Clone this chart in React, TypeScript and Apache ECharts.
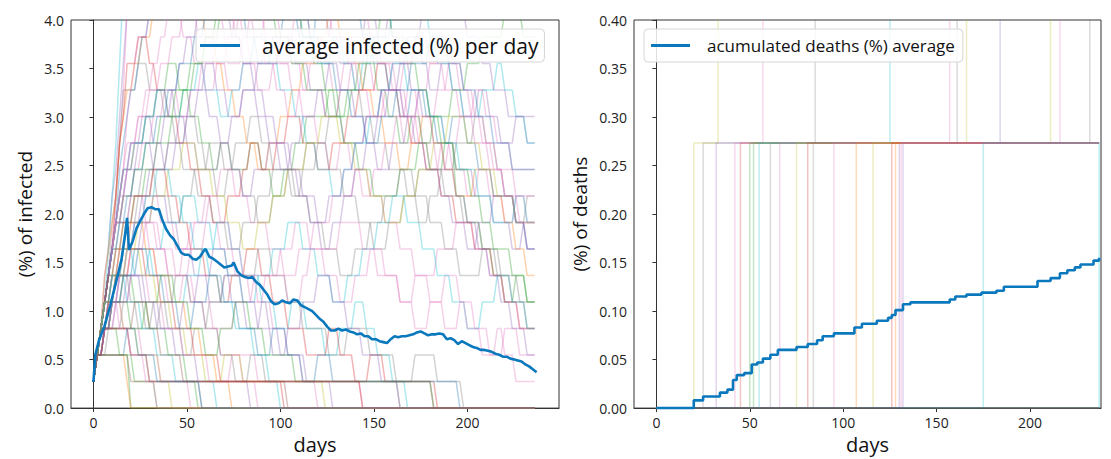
import React, { useEffect, useRef } from "react";
import * as echarts from "echarts";

// one person out of 366 in percent
const PERSON_PCT = 100 / 366;
const RUN_STEP_DAYS = 2;
const LAST_DAY = 237;

// each character = number of infected people (base 36) every 2 days, one string per simulation run
const infectedRuns: string[] = [
  "1234568acf ffhhhiiijj hhhiiggghh gggffeeeff eeddddeeed dddeeeffee eeddcccddd cccddcccbb bbbaaabbaa 999aaa9999 8889998888 777888777",
  "1235689bdf ggghhiiikk kllkkkjjjk jjiihhhggg hhhgggfffg ggghhhgggf fffeeeddde eeefffeeef eeddddeedd cccdddcccb bbbcccbbba aaabbbaaa",
  "1234567899 9aaabbbccc dddcccbbba aa99aaa999 99aaa99988 8999aaabbb bbbcccbbbc cccdddcccb bbaaabbbaa 9999aaa888 7777666555 444555444",
  "1234578acc ccdddccccb bbaaabbbaa 99988899aa aabbbaaa99 9998889999 aaabbbcccc ccbbbaaaa9 9999888777 8889999aaa aabbbaaa99 888777888",
  "123468adgj kkllmmllkk jjihhhgggf ffgggghhgg gghhhiihhh gggfffeeee ddddeeeddd ccdddeeeee fffggggfff eeddddcccb bbbbccccdd cccbbbaaa",
  "1234567888 899aaabbbc cccbbbcccd dddeeedddd eeffffeeee dddcccbbbb aaa999aaa9 99888999aa abbbcccbbb bbcccdddcc cbbbaaa999 888777666",
  "1235678abc cddeeefffg gghhhgggff eeeddcccbb baaa999aaa bbbcccdddd eeefffeeee ddcccbbbaa aa999aaabb baaa999888 8899999888 777666555",
  "1234568abd ddeeeddccc bbbaaa9998 8877778888 99aaa9999a aabbbbaaaa 9999aaaabb bcccccdddc ccbbbaaaa9 9998888777 7766666555 444433333",
  "1234567789 99aaaa9999 aaabbbcccc dddcccbbbb ccccbbbaaa 999aaabbbb cccdddcccc bbbaaa9999 aaaabbbccc bbbbaaa999 9988888777 776667777",
  "12345679ab ccdeeffggg hhhggggfff ggghhggggf feeeddddee effffeeeee gghhhggggf ffeeeddddc ccbbbccccb bbaaaabbbb aaa9999888 888777666",
  "123456789a aabbbcccdd deeeffffee eeddddcccc dddeeeffff eeedddcccc ccbbbbcccd dddeeedddd cccbbbbaaa aa999aaabb bbcccbbbaa aa9999999",
  "1234567789 9aaabbbccc ccbbbaaa99 9999aaabbb ccccdddddd eeeeddddcc ccbbbbbaaa aaabbbbccc ddddeeeeff fffgggffff eeeedddccc cbbbbbbbb",
  "1234567899 aaaabbbccc bbbbccccdd ccccbbbccc dddeeeeddd ccccbbbaaa 9999888999 aaaabbbccc ddddcccccc bbbbaaaa99 9998888777 777888777",
  "1234567788 8999aaaabb bbccccdddd eeeffffggh hhggggfffe eeeddddccc cccbbbbaaa a999988888 8899999aaa abbbbbcccc ddddeeeeee fffffeeee",
  "1234566777 8889999888 8777888999 9aaaa99999 8888777788 8899999aaa aaa9999888 8777766667 7778888999 9999888887 7777666665 555544444",
  "1234455666 7777888877 7766667777 8888999988 8877777666 6555566667 7777888888 9999888877 7766665555 5566666777 7766665555 444433333",
  "1233445566 6677778888 9999aaaa99 9988887777 6666777788 8899999aaa abbbbbaaaa 9999888877 7778888999 9aaaabbbbb aaaa999988 888777777",
  "1234567777 8888777766 6655556666 7777666655 5544445555 6666777766 6655554444 5555666655 5544443333 4444555544 4433332222 333322222",
  "1234567899 aaabbbaaa9 99aaabbbcc cbbbaaa999 8889999aaa aaa9998888 7778888999 aaabbbbccc cccbbbaaa9 9998887777 6667777888 888777666",
  "123456789b cdeeefffgg gfffeeeddd cccdddeeef fffeeedddc ccbbbcccdd deeefffggg ffffeeeddd dcccbbbccc dddeeedddc ccbbbaaa99 999888888",
  "1234556677 7888999aaa abbbcccddd eeeeffffgg ghhhiiihhh gggfffeeed ddcccbbbcc cdddeeefff eeeedddccc bbbaaaa999 9888777666 665555444",
  "1233445566 6555566667 7777888877 7766665555 4444555566 6677776666 5555444455 5566667777 8888777766 6655554444 3333444455 554444333",
  "1234455667 7788889999 aaaa999988 8877776666 7777888899 9999888877 7766665555 6666777788 8899998888 7777666655 5555666655 554444333",
  "1234567789 aabbccddee ffgghhhiii hhhggfffee ddddccccdd eeeeffffgg gfffeeeedd dcccbbbbcc cccdddeeee ddddccccbb bbaaaa9999 888877777",
  "1223344556 6778899aab bccddeeeff fgggfffeee dddcccbbba aa99988877 7666777888 999aaabbbc ccdddcccbb baaa999888 7776665554 443333222",
  "1234566778 8999aaabbb cccddddeee ffffggghhh iiijjjiiih hhgggfffee eddddccccb bbbaaaabbb bccccddddd eeeeeddddc cccbbbbaaa aa9999999",
  "1223344455 5566666555 4444555444 3333222222 1111000000 0000000000 0000000000 0000000000 0000000000 0000000000 0000000000 000000000",
  "1233444455 5444433333 2222211100 0000000000 0000000000 0000000000 0000000000 0000000000 0000000000 0000000000 0000000000 000000000",
  "1223344556 6667778888 7776666555 5444455444 4333344333 2222222111 1111000000 0000000000 0000000000 0000000000 0000000000 000000000",
  "1234445555 5566665555 5444455556 6667777666 5555544443 3334444333 3322223333 4443332222 1111000000 0000000000 0000000000 000000000",
  "1233344433 3322222211 1000000000 0000000000 0000000000 0000000000 0000000000 0000000000 0000000000 0000000000 0000000000 000000000",
  "1234556677 7888889999 8887776666 5555444555 5666655544 4433333222 2223332222 1111222211 1111111111 1100000000 0000000000 000000000",
  "1222333344 4433334444 3333222333 3444455555 5555666655 5544443333 3332222233 3333222222 2111112222 2211111110 0000000000 000000000",
  "1233445566 6777766666 5555554444 4433333344 4445555555 5544445566 6666667777 7766665555 5544445555 4444333344 3333222233 222111111",
  "1234455666 7777666555 5444433332 2221111000 0000000000 0000000000 0000000000 0000000000 0000000000 0000000000 0000000000 000000000",
  "1233444555 6666777666 5555666777 7888777666 5555444433 3322221111 0000000000 0000000000 0000000000 0000000000 0000000000 000000000",
  "1223334444 5555444433 3333444455 5566665555 4444333322 2233334444 5555444433 3322222111 1100000000 0000000000 0000000000 000000000",
  "1234455566 6777888999 9888777666 6555444433 3332222111 0000000000 0000000000 0000000000 0000000000 0000000000 0000000000 000000000",
  "1223333222 2111111000 0000000000 0000000000 0000000000 0000000000 0000000000 0000000000 0000000000 0000000000 0000000000 000000000",
  "1233444433 3332222211 1111110000 0000000000 0000000000 0000000000 0000000000 0000000000 0000000000 0000000000 0000000000 000000000",
  "1234455554 4443333222 2211111111 1110000000 0000000000 0000000000 0000000000 0000000000 0000000000 0000000000 0000000000 000000000",
  "1223344445 5554444333 3322222211 1111111111 1100000000 0000000000 0000000000 0000000000 0000000000 0000000000 0000000000 000000000",
  "1233445555 6666555544 4433333222 2222111111 1111111111 1000000000 0000000000 0000000000 0000000000 0000000000 0000000000 000000000",
  "1234445556 6665555444 4333322222 1111122222 1111111111 1111111111 1100000000 0000000000 0000000000 0000000000 0000000000 000000000",
  "1223334444 5555544443 3333222222 2111111222 2222111111 1111111111 1111111111 1100000000 0000000000 0000000000 0000000000 000000000",
  "1234455555 4444333344 4455554444 3333222211 1122221111 1111111111 1111111111 1111111111 1100000000 0000000000 0000000000 000000000",
  "1233344444 3333444455 5544443333 2222333344 4433332222 2222111111 1111111111 1111111111 1111111111 1000000000 0000000000 000000000",
  "1223344455 5666655554 4443333444 4555544443 3333222233 3322221111 2222111111 1111111111 1111111111 1111111100 0000000000 000000000",
  "1222222222 0000000000 0000000000 0000000000 0000000000 0000000000 0000000000 0000000000 0000000000 0000000000 0000000000 000000000",
  "1222222222 1111111111 1111111111 1111111111 1111111111 1100000000 0000000000 0000000000 0000000000 0000000000 0000000000 000000000",
  "1223333333 2222211111 1111111111 1111111111 1111111111 1111111111 1111111111 1100000000 0000000000 0000000000 0000000000 000000000",
  "1233333333 2222211111 1111111110 0000000000 0000000000 0000000000 0000000000 0000000000 0000000000 0000000000 0000000000 000000000",
  "1222222221 0000000000 0000000000 0000000000 0000000000 0000000000 0000000000 0000000000 0000000000 0000000000 0000000000 000000000",
  "1223344333 2222111000 0000000000 0000000000 0000000000 0000000000 0000000000 0000000000 0000000000 0000000000 0000000000 000000000",
  "1222222223 3322222111 1111111110 0000000000 0000000000 0000000000 0000000000 0000000000 0000000000 0000000000 0000000000 000000000",
  "1223333333 3444433322 2222111111 1111111111 1111111111 1111111111 1111111111 1111111111 1111111111 1000000000 0000000000 000000000",
];
const infectedRunColor: number[] = [
  6, 4, 2, 7, 9, 6, 1, 3, 4, 0, 6, 4, 9, 2, 7, 6, 8, 6, 4, 6, 2, 9, 7, 6, 4, 0,
  6, 2, 4, 9, 8, 3, 7, 6, 1, 6, 4, 9, 2, 6, 9, 4, 3, 8, 6, 7, 2, 0,
  2, 5, 3, 7, 1, 6, 0, 5,
];

const palette = ["#1f77b4", "#ff7f0e", "#2ca02c", "#d62728", "#9467bd", "#8c564b", "#e377c2", "#7f7f7f", "#bcbd22", "#17becf"];

const avgInfDays: number[] = [
  0, 1, 3, 6, 9, 12, 15, 17, 18, 19, 21, 23, 25, 27, 29, 31, 33, 35, 37, 39, 41, 43, 45, 47, 49, 51, 53, 55, 57, 59, 60,
  62, 64, 66, 68, 70, 72, 74, 75, 77, 79, 81, 83, 85, 87, 89, 91, 93, 95, 97, 99, 101, 103, 105, 107, 109, 111, 113, 115,
  117, 119, 121, 123, 125, 127, 129, 131, 133, 135, 137, 139, 141, 143, 145, 147, 149, 151, 153, 155, 157, 159, 161, 163,
  165, 167, 169, 171, 173, 175, 177, 179, 181, 183, 185, 187, 189, 191, 193, 195, 197, 199, 201, 203, 205, 207, 209, 211,
  213, 215, 217, 219, 221, 223, 225, 227, 229, 231, 233, 235, 237,
];
const avgInfValues: number[] = [
  0.27, 0.55, 0.7, 0.85, 1.06, 1.29, 1.53, 1.8, 1.96, 1.63, 1.72, 1.85, 1.93, 2.0, 2.06, 2.07, 2.05, 2.05, 1.93, 1.84, 1.78,
  1.74, 1.67, 1.6, 1.58, 1.58, 1.54, 1.53, 1.56, 1.62, 1.64, 1.56, 1.54, 1.51, 1.48, 1.45, 1.46, 1.47, 1.5, 1.41, 1.37,
  1.35, 1.34, 1.35, 1.3, 1.27, 1.22, 1.17, 1.1, 1.07, 1.08, 1.11, 1.09, 1.08, 1.12, 1.11, 1.06, 1.04, 1.02, 1.0, 0.96, 0.92,
  0.89, 0.84, 0.8, 0.8, 0.82, 0.8, 0.81, 0.79, 0.78, 0.76, 0.77, 0.74, 0.74, 0.71, 0.71, 0.69, 0.68, 0.67, 0.71, 0.74,
  0.73, 0.74, 0.74, 0.75, 0.76, 0.78, 0.79, 0.77, 0.75, 0.76, 0.76, 0.77, 0.76, 0.71, 0.72, 0.7, 0.66, 0.69, 0.67, 0.65,
  0.63, 0.62, 0.6, 0.6, 0.59, 0.58, 0.56, 0.55, 0.53, 0.53, 0.51, 0.5, 0.49, 0.48, 0.45, 0.43, 0.4, 0.37,
];

const deathAvgDays: number[] = [
  0, 20, 25, 34, 38, 41, 43, 47, 51, 54, 57, 61, 65, 75, 81, 86, 89, 95, 106, 110, 118, 124, 126, 128, 132, 136, 157, 160,
  166, 174, 182, 186, 204, 211, 216, 220, 224, 227, 234, 237,
];
const deathAvgValues: number[] = [
  0, 0.008, 0.012, 0.016, 0.019, 0.029, 0.034, 0.036, 0.045, 0.047, 0.051, 0.055, 0.06, 0.063, 0.066, 0.07, 0.074, 0.077,
  0.083, 0.087, 0.09, 0.093, 0.096, 0.101, 0.107, 0.109, 0.112, 0.115, 0.117, 0.119, 0.121, 0.125, 0.131, 0.134, 0.139,
  0.142, 0.145, 0.148, 0.152, 0.155,
];

// death runs: day of first and second death (0 = none)
const deathFirstDay: number[] = [20, 25, 32, 42, 45, 50, 52, 55, 61, 66, 75, 81, 84, 95, 107, 116, 126, 128, 130, 131, 132, 175, 237];
const deathSecondDay: number[] = [33, 85, 184, 57, 0, 0, 0, 125, 232, 157, 211, 0, 161, 216, 0, 166, 0, 0, 0, 0, 0, 0, 0];
const deathRunColor: number[] = [8, 7, 4, 6, 3, 2, 2, 9, 7, 6, 8, 3, 7, 6, 1, 8, 3, 1, 4, 6, 4, 9, 9];

const xTicks = [0, 50, 100, 150, 200];

const FONT = "'Open Sans', 'DejaVu Sans', sans-serif";
const AVG_COLOR = "#0a78bd";

export default function App() {
  const ref = useRef<HTMLDivElement>(null);
  useEffect(() => {
    if (!ref.current) return;
    const chart = echarts.init(ref.current, undefined, { renderer: "svg" });

    const runSeries: any[] = infectedRuns.map((s, k) => {
      const chars = s.replace(/\s+/g, "").split("");
      const pts = chars
        .map((c, i) => [i * RUN_STEP_DAYS, parseInt(c, 36) * PERSON_PCT])
        .filter((p) => p[0] <= LAST_DAY);
      return {
        type: "line",
        xAxisIndex: 0,
        yAxisIndex: 0,
        showSymbol: false,
        silent: true,
        z: 1,
        data: pts,
        lineStyle: { width: 1.5, color: palette[infectedRunColor[k % infectedRunColor.length]], opacity: 0.34 },
      };
    });

    const deathSeries: any[] = deathFirstDay.map((d1, k) => {
      const d2 = deathSecondDay[k];
      const pts: number[][] = [[0, 0], [d1, 0], [d1, PERSON_PCT]];
      if (d2) {
        pts.push([d2, PERSON_PCT], [d2, 2 * PERSON_PCT], [LAST_DAY, 2 * PERSON_PCT]);
      } else {
        pts.push([LAST_DAY, PERSON_PCT]);
      }
      return {
        type: "line",
        xAxisIndex: 1,
        yAxisIndex: 1,
        showSymbol: false,
        silent: true,
        z: 1,
        data: pts,
        lineStyle: { width: 1.5, color: palette[deathRunColor[k]], opacity: 0.28 },
      };
    });

    const zeroDeathRun = {
      type: "line",
      xAxisIndex: 1,
      yAxisIndex: 1,
      showSymbol: false,
      silent: true,
      z: 1,
      data: [[0, 0], [LAST_DAY, 0]],
      lineStyle: { width: 1.6, color: "#555", opacity: 0.8 },
    };

    const axisCommon = {
      axisLine: { show: true, lineStyle: { color: "#333", width: 1 } },
      axisTick: { show: true, length: 4, lineStyle: { color: "#333" } },
      splitLine: { show: false },
      nameLocation: "middle" as const,
      nameTextStyle: { fontFamily: FONT, fontSize: 19, color: "#111" },
    };

    const option: any = {
      animation: false,
      backgroundColor: "#fff",
      grid: [
        { left: 71, top: 20, width: 488, height: 392, show: true, borderColor: "#333", borderWidth: 1, backgroundColor: "transparent" },
        { left: 634, top: 20, width: 467, height: 392, show: true, borderColor: "#333", borderWidth: 1, backgroundColor: "transparent" },
      ],
      xAxis: [0, 1].map((g) => ({
        ...axisCommon,
        type: "value",
        gridIndex: g,
        min: -12,
        max: g === 0 ? 249 : 238,
        name: "days",
        nameGap: 22,
        nameTextStyle: { fontFamily: FONT, fontSize: 20, color: "#111" },
        axisTick: { ...axisCommon.axisTick, customValues: xTicks },
        axisLabel: { customValues: xTicks, fontFamily: FONT, fontSize: 14, color: "#222", margin: 7 },
      })),
      yAxis: [
        {
          ...axisCommon,
          type: "value",
          gridIndex: 0,
          min: 0,
          max: 4,
          interval: 0.5,
          name: "(%) of infected",
          nameGap: 37,
          axisLabel: { fontFamily: FONT, fontSize: 14, color: "#222", margin: 7, formatter: (v: number) => v.toFixed(1) },
        },
        {
          ...axisCommon,
          type: "value",
          gridIndex: 1,
          min: 0,
          max: 0.4,
          interval: 0.05,
          name: "(%) of deaths",
          nameGap: 45,
          axisLabel: { fontFamily: FONT, fontSize: 14, color: "#222", margin: 7, formatter: (v: number) => v.toFixed(2) },
        },
      ],
      legend: [
        {
          data: [{ name: "average infected (%) per day", icon: "rect" }],
          left: 196,
          top: 29,
          itemWidth: 40,
          itemHeight: 3,
          padding: [6, 6, 6, 4],
          backgroundColor: "rgba(255,255,255,0.85)",
          borderColor: "#d6d6d6",
          borderWidth: 1,
          borderRadius: 4,
          textStyle: { fontFamily: FONT, fontSize: 21, color: "#111", padding: [0, 0, 0, 17] },
        },
        {
          data: [{ name: "acumulated deaths (%) average", icon: "rect" }],
          left: 644,
          top: 29,
          itemWidth: 39,
          itemHeight: 3,
          padding: [8, 8, 8, 7],
          backgroundColor: "rgba(255,255,255,0.85)",
          borderColor: "#d6d6d6",
          borderWidth: 1,
          borderRadius: 4,
          textStyle: { fontFamily: FONT, fontSize: 17, color: "#111", padding: [0, 0, 0, 12] },
        },
      ],
      series: [
        ...runSeries,
        ...deathSeries,
        zeroDeathRun,
        {
          name: "average infected (%) per day",
          type: "line",
          xAxisIndex: 0,
          yAxisIndex: 0,
          showSymbol: false,
          z: 5,
          color: AVG_COLOR,
          data: avgInfDays.map((d, i) => [d, avgInfValues[i]]),
          lineStyle: { width: 2.6, color: AVG_COLOR },
        },
        {
          name: "acumulated deaths (%) average",
          type: "line",
          xAxisIndex: 1,
          yAxisIndex: 1,
          showSymbol: false,
          step: "end",
          z: 5,
          color: AVG_COLOR,
          data: deathAvgDays.map((d, i) => [d, deathAvgValues[i]]),
          lineStyle: { width: 2.6, color: AVG_COLOR },
        },
      ],
    };

    chart.setOption(option);
    return () => chart.dispose();
  }, []);

  return <div ref={ref} style={{ position: "absolute", left: 0, top: 0, width: 1111, height: 459 }} />;
}
